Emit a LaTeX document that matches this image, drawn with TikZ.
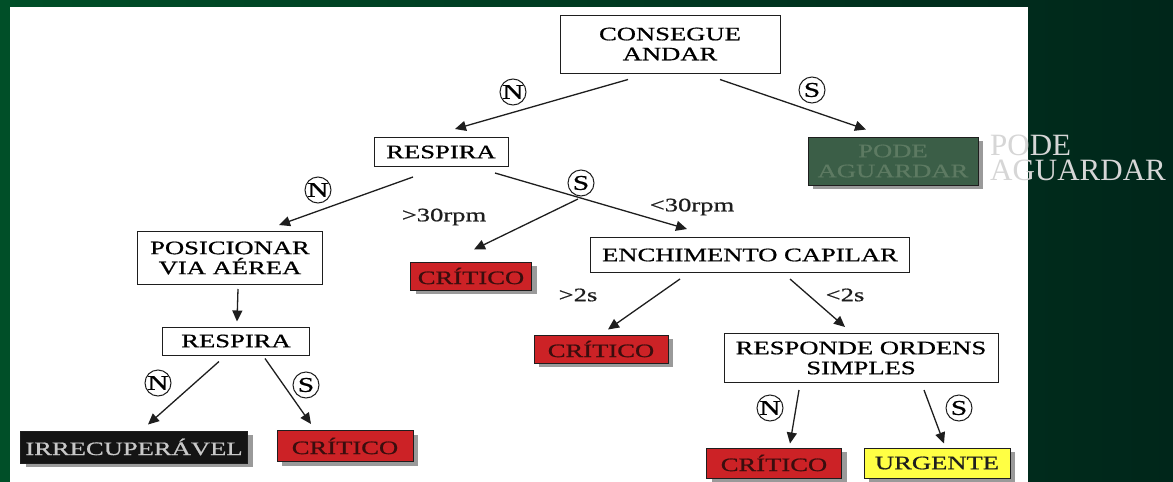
\documentclass[tikz,border=0pt]{standalone}
\usepackage{fontspec}
\setmainfont[FakeStretch=1.4, FakeBold=0.8]{Liberation Serif}
\newfontfamily\slidefont{Liberation Serif}
\usetikzlibrary{
  positioning,
  arrows.meta,
  shadows,
}
\definecolor{bgLeft}{HTML}{004F28}
\definecolor{bgRight}{HTML}{00261A}
\definecolor{border}{HTML}{1E1E1E}
\definecolor{fillRed}{HTML}{CC2226}
\definecolor{textRed}{HTML}{3A0E0E}
\definecolor{fillYellow}{HTML}{FFFF44}
\definecolor{fillGreen}{HTML}{3B5E47}
\definecolor{textGreen}{HTML}{5D7A62}
\definecolor{fillBlack}{HTML}{141414}
\definecolor{textLight}{HTML}{C8C8C8}
\definecolor{shadowGray}{HTML}{9A9A9A}
\definecolor{ghostText}{HTML}{D6D6D6}
\newcommand{\boxfont}{\fontsize{19}{20}\selectfont}
\tikzset{
  qbox/.style={
    rectangle, draw=border, fill=white, line width=1pt,
    align=center, inner sep=2pt, font=\boxfont,
  },
  endbox/.style={
    qbox, drop shadow={shadow xshift=5pt, shadow yshift=-4pt, fill=shadowGray, opacity=1},
  },
  redbox/.style={endbox, fill=fillRed, text=textRed},
  answer/.style={
    circle, draw=border, line width=1pt, fill=white, inner sep=0pt,
    minimum size=26pt, font=\fontsize{21}{21}\selectfont,
  },
  rate/.style={font=\fontsize{19}{19}\selectfont, text=border},
  arrow/.style={-{Triangle[length=11pt,width=10pt]}, border, line width=1.3pt},
}

\begin{document}
\begin{tikzpicture}[x=1pt, y=-1pt]

  \useasboundingbox (0,0) rectangle (1173,482);
  \shade[left color=bgLeft, right color=bgRight] (0,0) rectangle (1173,482);
  \fill[white] (10,7) rectangle (1028,482);

  % Top
  \node[qbox, minimum width=220pt, minimum height=58pt] (andar) at (670,44) {CONSEGUE\\ANDAR};
  \node[endbox, fill=fillGreen, text=textGreen, minimum width=170pt, minimum height=48pt] (aguardar) at (893,161) {PODE\\AGUARDAR};
  \node[qbox, minimum width=134pt, minimum height=29pt] (resp1) at (441,152) {RESPIRA};

  \node[answer] (n1) at (513,92) {N};
  \node[answer] (s1) at (812,90) {S};
  \draw[arrow] ([xshift=-42pt,yshift=-6pt]andar.south) -- ([xshift=14pt,yshift=8pt]resp1.north);
  \draw[arrow] ([xshift=50pt,yshift=-6pt]andar.south) -- ([xshift=-27pt,yshift=7pt]aguardar.north);

  % Respira
  \node[qbox, minimum width=185pt, minimum height=53pt] (posic) at (230,258) {POSICIONAR\\VIA AÉREA};
  \node[redbox, minimum width=121pt, minimum height=28pt] (crit1) at (471,276) {CRÍTICO};
  \node[qbox, minimum width=319pt, minimum height=35pt] (ench) at (750,255) {ENCHIMENTO CAPILAR};

  \node[answer] (n2) at (318,190) {N};
  \node[answer] (s2) at (581,183) {S};
  \node[rate] (fast) at (444,217) {\textgreater30rpm};
  \node[rate] (slow) at (692,207) {\textless30rpm};
  \draw[arrow] ([xshift=-28pt,yshift=-10pt]resp1.south) -- ([xshift=49pt,yshift=6pt]posic.north);
  \draw[arrow] ([xshift=54pt,yshift=-6pt]resp1.south) -- ([xshift=-63pt,yshift=8pt]ench.north);
  \draw[arrow] ([xshift=-3pt,yshift=-16pt]s2.center) -- ([xshift=3pt,yshift=12pt]crit1.north);

  % Left branch
  \node[qbox, minimum width=147pt, minimum height=28pt] (resp2) at (236,341) {RESPIRA};
  \node[endbox, fill=fillBlack, text=textLight, minimum width=227pt, minimum height=32pt] (irrec) at (134,447) {IRRECUPERÁVEL};
  \node[redbox, minimum width=136pt, minimum height=31pt] (crit3) at (345,446) {CRÍTICO};

  \node[answer] (n3) at (158,383) {N};
  \node[answer] (s3) at (306,385) {S};
  \draw[arrow] ([xshift=8pt,yshift=-4pt]posic.south) -- ([xshift=1pt,yshift=5pt]resp2.north);
  \draw[arrow] ([xshift=-17pt,yshift=-6pt]resp2.south) -- ([xshift=14pt,yshift=6pt]irrec.north);
  \draw[arrow] ([xshift=29pt,yshift=-3pt]resp2.south) -- ([xshift=-34pt,yshift=6pt]crit3.north);

  % Enchimento capilar
  \node[redbox, minimum width=134pt, minimum height=28pt] (crit2) at (601,349) {CRÍTICO};
  \node[qbox, minimum width=274pt, minimum height=49pt] (ordens) at (861,358) {RESPONDE ORDENS\\SIMPLES};

  \node[rate] (long) at (578,295) {\textgreater2s};
  \node[rate] (short) at (845,295) {\textless2s};
  \draw[arrow] ([xshift=-70pt,yshift=-6pt]ench.south) -- ([xshift=7pt,yshift=5pt]crit2.north);
  \draw[arrow] ([xshift=40pt,yshift=-6pt]ench.south) -- ([xshift=-16pt,yshift=6pt]ordens.north);

  % Responde ordens
  \node[redbox, minimum width=135pt, minimum height=30pt] (crit4) at (774,463) {CRÍTICO};
  \node[endbox, fill=fillYellow, text=border, minimum width=146pt, minimum height=30pt] (urg) at (937,463) {URGENTE};

  \node[answer] (n4) at (770,408) {N};
  \node[answer] (s4) at (959,408) {S};
  \draw[arrow] ([xshift=-62pt,yshift=-7pt]ordens.south) -- ([xshift=16pt,yshift=4pt]crit4.north);
  \draw[arrow] ([xshift=63pt,yshift=-7pt]ordens.south) -- ([xshift=7pt,yshift=4pt]urg.north);

  \node[anchor=west, align=left, text=ghostText, inner sep=0pt,
    font=\slidefont\fontsize{31}{25}\selectfont] (ghost) at (990,158) {PODE\\AGUARDAR};

\end{tikzpicture}
\end{document}
